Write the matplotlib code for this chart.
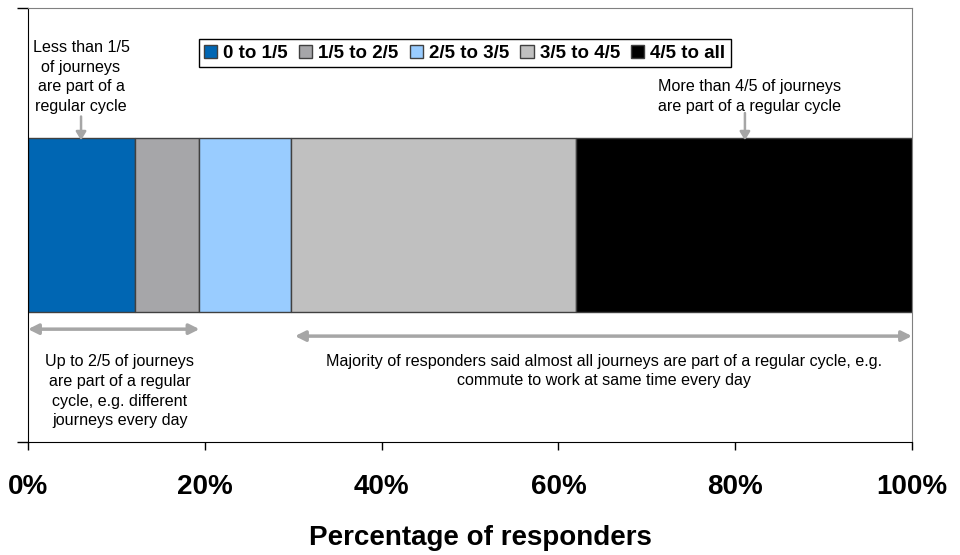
import matplotlib
matplotlib.use("Agg")
import matplotlib.pyplot as plt
from matplotlib.patches import Patch

plt.rcParams['font.family'] = ['Liberation Sans', 'DejaVu Sans']

# share of responders per band of regular-cycle journeys (%)
categories = ['0 to 1/5', '1/5 to 2/5', '2/5 to 3/5', '3/5 to 4/5', '4/5 to all']
shares = [12.1, 7.2, 10.5, 32.2, 38.0]
colours = ['#0066B3', '#A6A6A9', '#99CCFF', '#C0C0C0', '#000000']
tick_values = [0, 20, 40, 60, 80, 100]
tick_labels = ['0%', '20%', '40%', '60%', '80%', '100%']

fig = plt.figure(figsize=(9.6, 5.55), dpi=100)
ax = fig.add_axes([28 / 960, 1 - 442 / 555, 884 / 960, 434 / 555])

left = 0
for share, colour in zip(shares, colours):
    ax.barh(0.5, share, height=0.4, left=left, color=colour,
            edgecolor='#404040', linewidth=1)
    left += share

ax.set_xlim(0, 100)
ax.set_ylim(0, 1)

ax.set_xticks(tick_values)
ax.set_xticklabels(tick_labels, fontsize=20, fontweight='bold')
ax.tick_params(axis='x', direction='out', length=6, width=1, pad=17)
ax.set_yticks([0, 1])
ax.set_yticklabels([])
ax.tick_params(axis='y', direction='out', length=8, width=1)
ax.yaxis.get_major_ticks()[1].tick1line.set_color('#808080')
xlab = ax.set_xlabel('Percentage of responders', fontsize=20, fontweight='bold')
xlab.set_va('center')
ax.xaxis.set_label_coords(0.5, 1 - 538 / 555, transform=fig.transFigure)

for side in ['top', 'right']:
    ax.spines[side].set_color('#808080')
for side in ['left', 'bottom']:
    ax.spines[side].set_color('black')

# legend
handles = [Patch(facecolor=c, edgecolor='#404040', linewidth=1) for c in colours]
leg = ax.legend(handles, categories, loc='center', bbox_to_anchor=(0.494, 0.896),
                ncol=5, prop={'weight': 'bold', 'size': 13.5}, handlelength=0.7,
                handleheight=0.7, handletextpad=0.32, columnspacing=0.6,
                fancybox=False, framealpha=1, borderpad=0.3, borderaxespad=0)
leg.get_frame().set_edgecolor('black')
leg.get_frame().set_linewidth(1)

arrow_grey = '#A6A6A6'
note_size = 11.6

# annotations above the bar
ax.text(6.0, 0.841, 'Less than 1/5\nof journeys\nare part of a\nregular cycle',
        ha='center', va='center', fontsize=note_size, linespacing=1.4)
ax.annotate('', xy=(6.0, 0.695), xytext=(6.0, 0.75),
            arrowprops=dict(arrowstyle='-|>,head_length=0.5,head_width=0.3',
                            color=arrow_grey, lw=1.8, shrinkA=0, shrinkB=0))

ax.text(81.6, 0.797, 'More than 4/5 of journeys\nare part of a regular cycle',
        ha='center', va='center', fontsize=note_size, linespacing=1.4)
ax.annotate('', xy=(81.1, 0.695), xytext=(81.1, 0.758),
            arrowprops=dict(arrowstyle='-|>,head_length=0.5,head_width=0.3',
                            color=arrow_grey, lw=1.8, shrinkA=0, shrinkB=0))

# annotations below the bar
ax.annotate('', xy=(0, 0.260), xytext=(19.4, 0.260),
            arrowprops=dict(arrowstyle='<|-|>,head_length=0.6,head_width=0.3',
                            color=arrow_grey, lw=2.5, shrinkA=0, shrinkB=0))
ax.text(10.4, 0.117, 'Up to 2/5 of journeys\nare part of a regular\ncycle, e.g. different\njourneys every day',
        ha='center', va='center', fontsize=note_size, linespacing=1.38)

ax.annotate('', xy=(30.2, 0.244), xytext=(100, 0.244),
            arrowprops=dict(arrowstyle='<|-|>,head_length=0.6,head_width=0.3',
                            color=arrow_grey, lw=2.5, shrinkA=0, shrinkB=0))
ax.text(65.2, 0.164, 'Majority of responders said almost all journeys are part of a regular cycle, e.g.\ncommute to work at same time every day',
        ha='center', va='center', fontsize=note_size, linespacing=1.3)

fig.savefig('out.png', dpi=100)
